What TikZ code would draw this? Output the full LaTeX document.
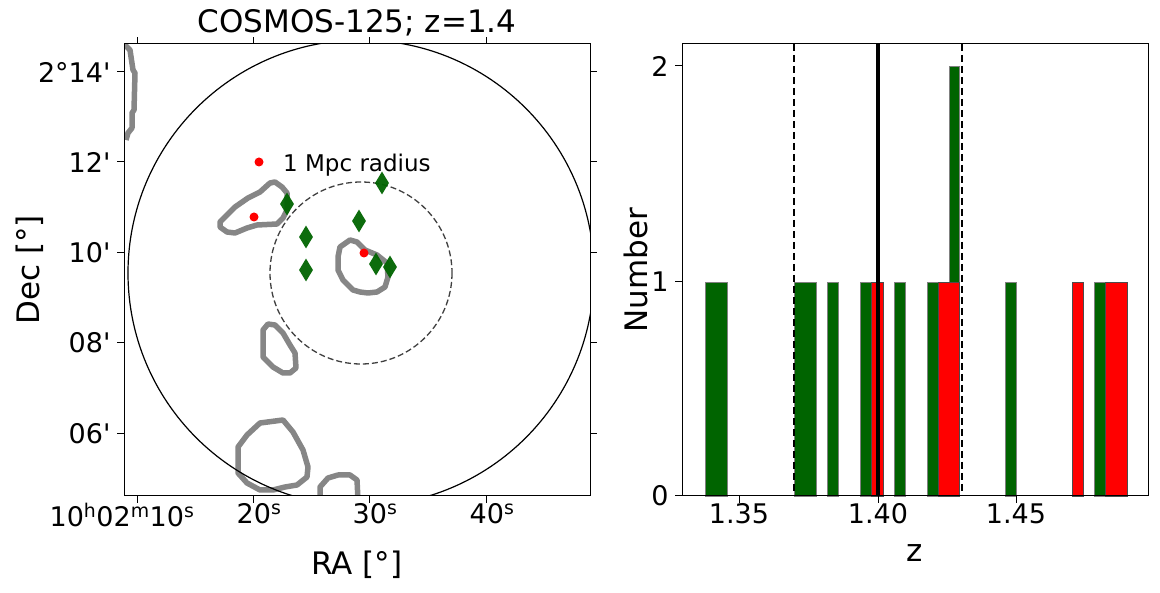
\documentclass[tikz,border=0pt]{standalone}
\usepackage{fontspec}
\setmainfont{DejaVu Sans}
\newfontfamily\plainfont{DejaVu Sans}
\usetikzlibrary{shapes.geometric}
\definecolor{dgreen}{RGB}{0,100,0}
\begin{document}
\begin{tikzpicture}[
        x=1pt, y=-1pt,
        ticklab/.style={font=\plainfont\fontsize{27}{30}\selectfont},
        axlab/.style={font=\plainfont\fontsize{31}{34}\selectfont},
        contour/.style={draw=gray!95, line width=5.5pt, line join=round},
        member/.style={diamond, fill=dgreen, inner sep=0pt, minimum width=14pt, minimum height=23pt, aspect=0.6},
        reddot/.style={circle, fill=red, inner sep=0pt, minimum size=9pt},
        gbar/.style={fill=dgreen, draw=gray, line width=0.8pt},
        rbar/.style={fill=red, draw=gray!60!black, line width=0.8pt}
    ]
        \useasboundingbox (0,0) rectangle (1160,593);
        % left panel: sky map
        \begin{scope}
            \clip (124,44) rectangle (590,496);
            \draw[contour] (124,44) -- (130,50) -- (133,70) -- (135,73) -- (134,110) -- (132,113) -- (132,128) -- (128,133) -- (126,140);
            \draw[contour] (220,227) -- (227,232) -- (235,233) -- (247,228) -- (257,225) -- (277,224) -- (283,218) -- (287,210) -- (287,193) -- (282,187) -- (275,182) -- (270,183) -- (260,192) -- (248,198) -- (235,207) -- (227,215) -- (220,222) -- cycle;
            \draw[contour] (340,247) -- (350,240) -- (357,242) -- (365,250) -- (377,255) -- (387,263) -- (388,277) -- (385,287) -- (377,292) -- (368,293) -- (360,292) -- (353,290) -- (343,280) -- (338,270) -- (338,257) -- cycle;
            \draw[contour] (263,330) -- (268,324) -- (275,325) -- (283,333) -- (290,345) -- (295,353) -- (296,368) -- (290,373) -- (283,373) -- (273,367) -- (263,357) -- (263,340) -- cycle;
            \draw[contour] (238,447) -- (247,435) -- (260,423) -- (283,420) -- (293,432) -- (303,450) -- (308,467) -- (307,477) -- (297,485) -- (285,487) -- (273,490) -- (260,490) -- (247,483) -- (238,473) -- cycle;
            \draw[contour] (320,500) -- (320,487) -- (328,478) -- (338,475) -- (350,475) -- (357,480) -- (358,500);
            \draw[line width=1.2pt] (361,273) circle (233);
        \end{scope}
        \draw[dash pattern=on 6pt off 3pt, line width=1.3pt, black!75] (361,273) circle (91);
        \node[reddot] (bcg1) at (254,217) {};
        \node[reddot] (bcg2) at (364,253) {};
        \foreach \px/\py [count=\i] in {382/183, 287/204, 359/221, 306/237, 306/270, 376/264, 390/267}
            \node[member, opacity=0.95] (mem\i) at (\px,\py) {};
        \node[reddot] (legdot) at (259,162) {};
        \node[anchor=west, inner sep=0pt, font=\plainfont\fontsize{23}{26}\selectfont] (legtext) at (283,165) {1 Mpc radius};
        \draw[line width=1pt] (124,44) rectangle (590,496);
        % left axes ticks
        \foreach \tx in {137,253,369,486} {
            \draw[line width=1pt] (\tx,496) -- ++(0,7);
            \draw[line width=1pt] (\tx,44) -- ++(0,-7);
        }
        \foreach \ty/\lab in {72/{2°14'}, 162/{12'}, 253/{10'}, 343/{08'}, 434/{06'}} {
            \draw[line width=1pt] (124,\ty) -- ++(-7,0);
            \draw[line width=1pt] (590,\ty) -- ++(7,0);
            \node[ticklab, anchor=east] at (114,\ty) {\lab};
        }
        \node[ticklab, anchor=north] (ra0) at (122,500) {10$^{\rm h}$02$^{\rm m}$10$^{\rm s}$};
        \node[ticklab, anchor=north] (ra1) at (259,500) {20$^{\rm s}$};
        \node[ticklab, anchor=north] (ra2) at (375,500) {30$^{\rm s}$};
        \node[ticklab, anchor=north] (ra3) at (492,500) {40$^{\rm s}$};
        \node[axlab] (ralab) at (357,565) {RA [°]};
        \node[axlab, rotate=90] (declab) at (30,270) {Dec [°]};
        \node[axlab] (title) at (357,23) {COSMOS-125; z=1.4};
        % right panel: histogram
        \foreach \xa/\xb in {705/727, 794/816, 827/838, 860/871, 894/905, 927/938, 1005/1016, 1094/1105}
            \draw[gbar] (\xa,496) rectangle (\xb,282);
        \draw[gbar] (949,496) rectangle (959,66);
        \foreach \xa/\xb in {871/883, 938/959, 1072/1083, 1105/1127}
            \draw[rbar] (\xa,496) rectangle (\xb,282);
        \draw[line width=2pt, dash pattern=on 7pt off 4pt] (794,44) -- (794,496);
        \draw[line width=2pt, dash pattern=on 7pt off 4pt] (962,44) -- (962,496);
        \draw[line width=4.5pt] (878,44) -- (878,496);
        \draw[line width=1pt] (682,44) rectangle (1148,496);
        \foreach \tx/\lab in {739/1.35, 878/1.40, 1016/1.45} {
            \draw[line width=1pt] (\tx,496) -- ++(0,7);
            \node[ticklab, anchor=north] at (\tx,500) {\lab};
        }
        \foreach \ty/\lab in {496/0, 282/1, 66/2} {
            \draw[line width=1pt] (682,\ty) -- ++(-7,0);
            \node[ticklab, anchor=east] at (672,\ty) {\lab};
        }
        \node[axlab] (zlab) at (915,553) {z};
        \node[axlab, rotate=90] (numlab) at (636,270) {Number};
    \end{tikzpicture}
\end{document}
